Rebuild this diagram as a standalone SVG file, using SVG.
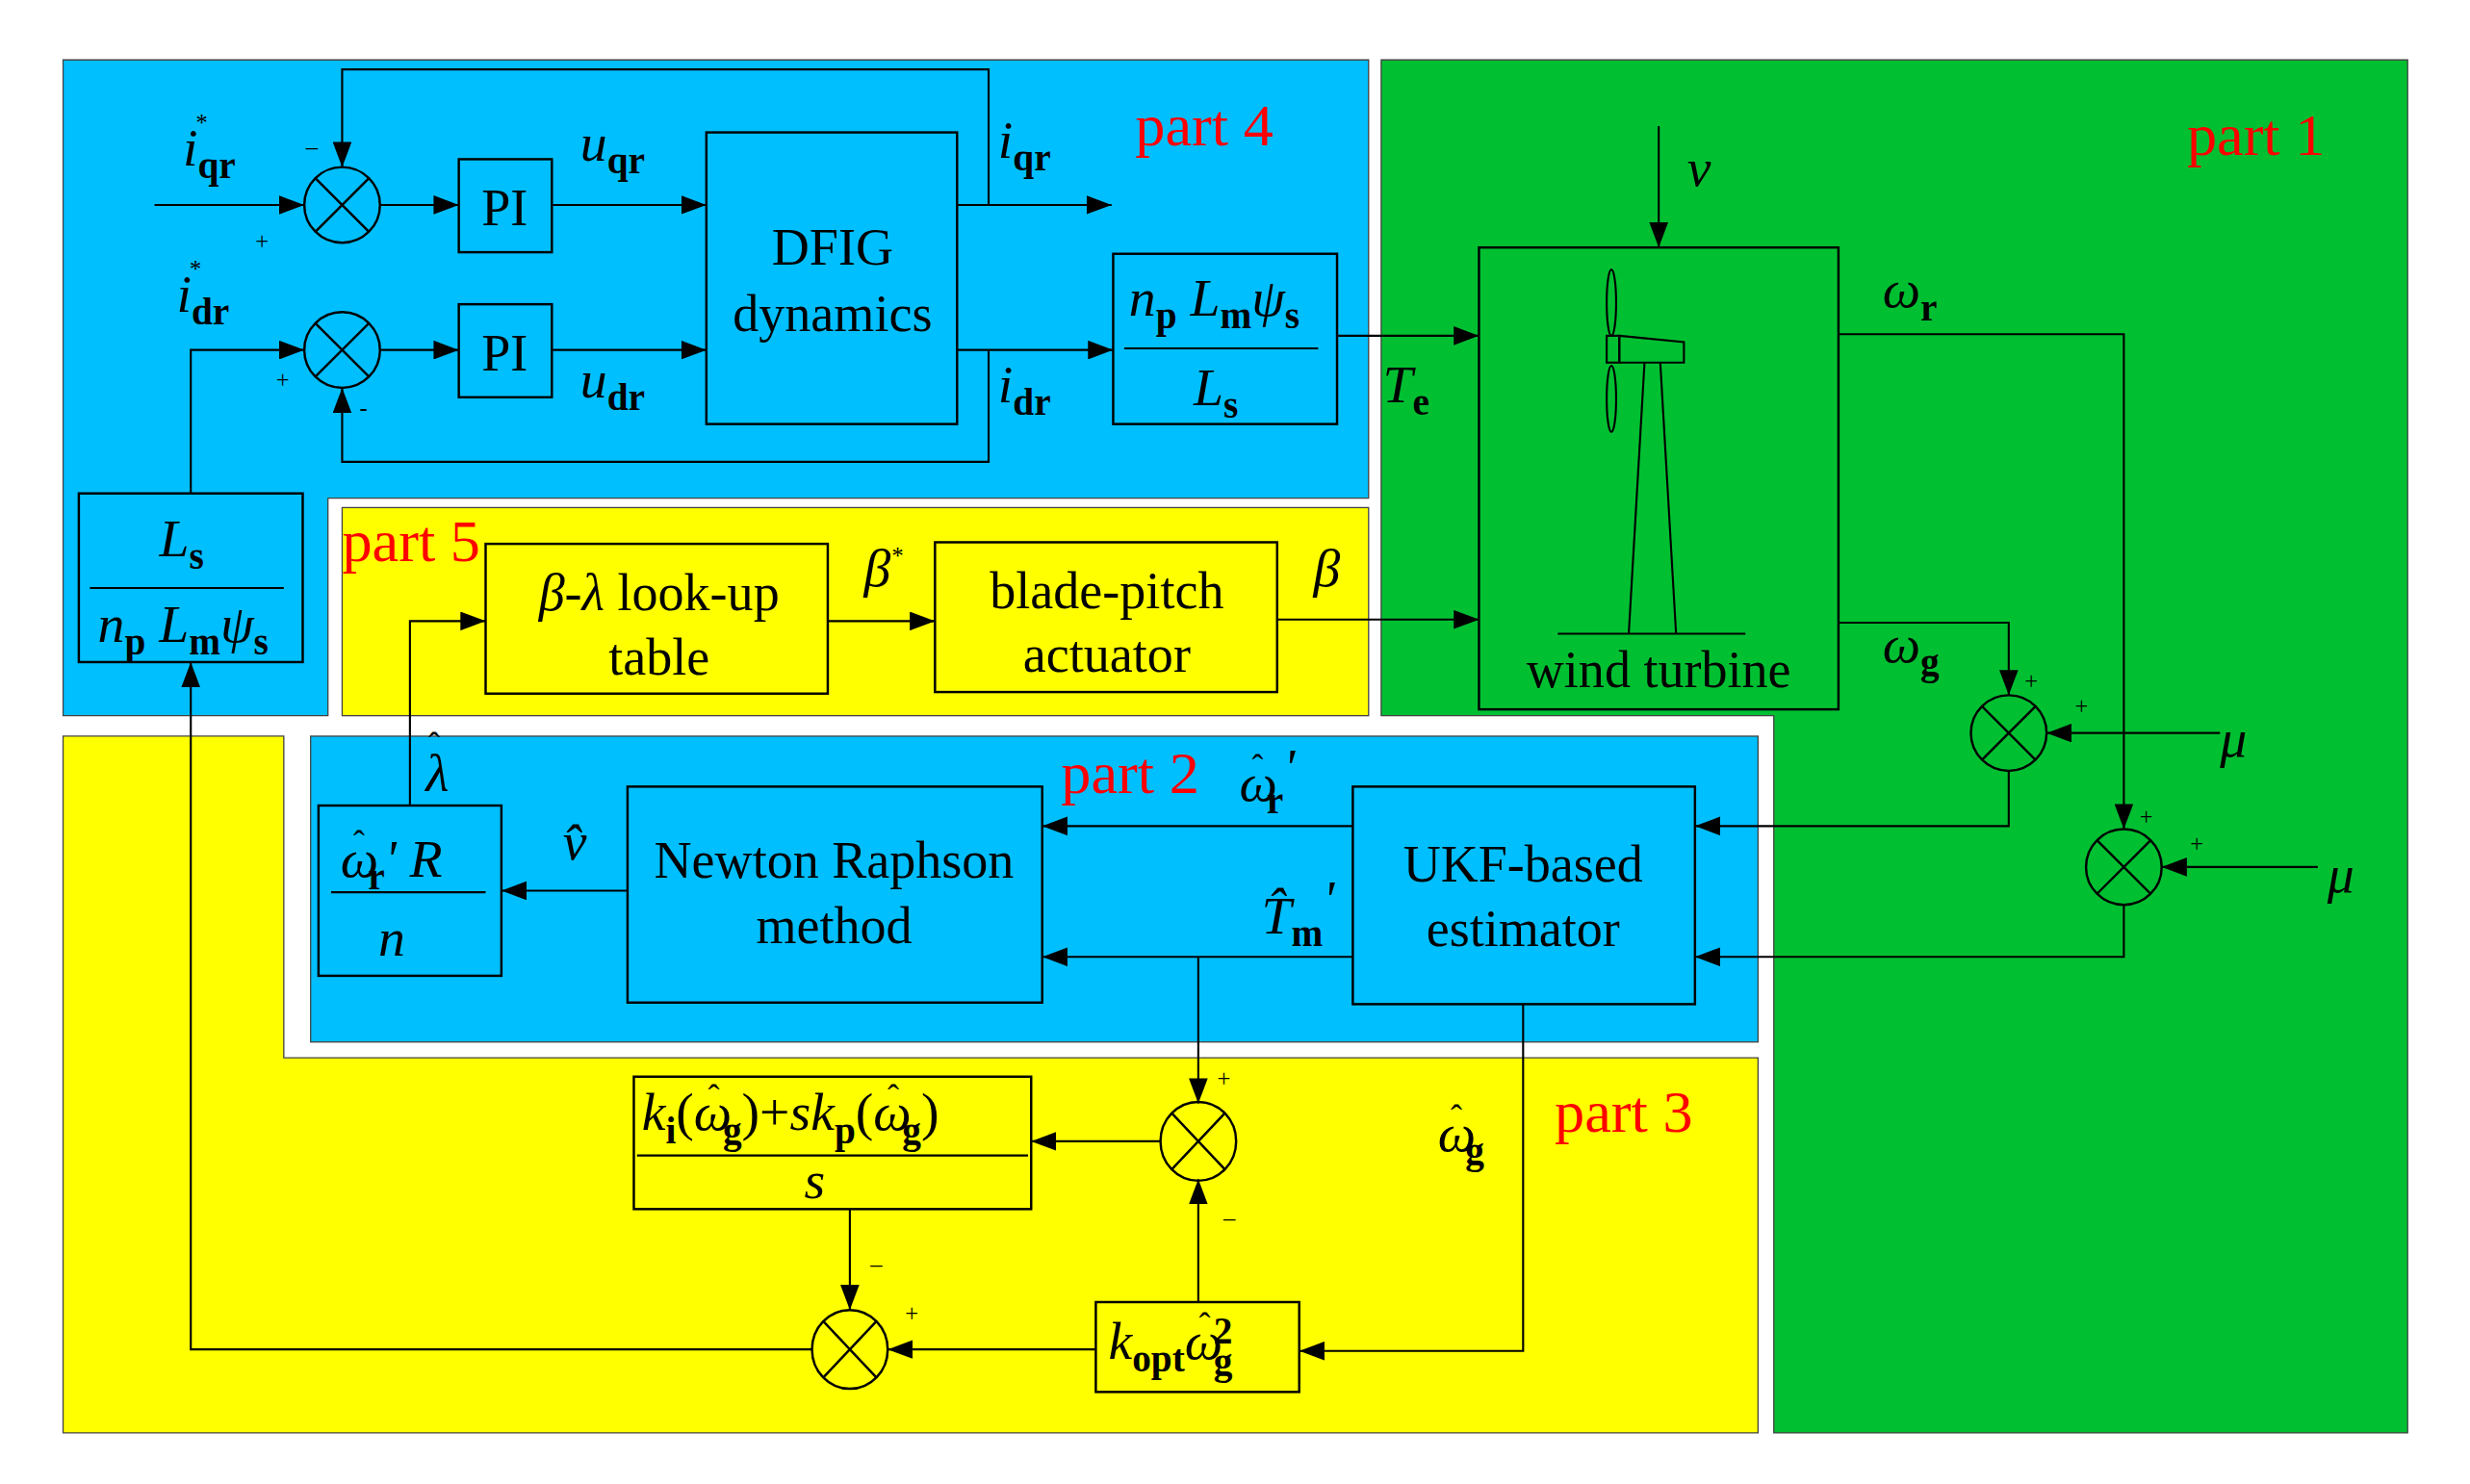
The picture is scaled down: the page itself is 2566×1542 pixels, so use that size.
<svg xmlns="http://www.w3.org/2000/svg" width="2566" height="1542" viewBox="0 0 2566 1542">
<style>
text{font-family:"Liberation Serif",serif;fill:#000}
.b{fill:none;stroke:#000;stroke-width:1.5}
.l{fill:none;stroke:#000;stroke-width:1.3}
.t{font-size:33px;text-anchor:middle}
.m{font-style:italic;font-size:34px}
.s{font-size:24px;font-weight:bold;font-style:normal}
.h{font-size:22px;font-style:normal}
.p{fill:red;font-size:38px}
.sg{font-size:15px}
</style>
<defs>
<marker id="a" markerUnits="userSpaceOnUse" markerWidth="16" markerHeight="12" refX="16" refY="6" orient="auto"><path d="M0,0L16,6L0,12z" fill="#000"/></marker>
</defs>
<rect width="2566" height="1542" fill="#fff"/>
<g transform="scale(1.638)">
<g id="regions" stroke="#444" stroke-width="0.8">
<path d="M40,38H868V316H208V454H40z" fill="#00bfff"/>
<rect x="217" y="322" width="651" height="132" fill="#ffff00"/>
<path d="M876,38H1527V909H1125V454H876z" fill="#00c032"/>
<path d="M40,467H180V671H1115V909H40z" fill="#ffff00"/>
<rect x="197" y="467" width="918" height="194" fill="#00bfff"/>
</g>
<g id="labels">
<text class="p" x="720" y="92">part 4</text>
<text class="p" x="1387" y="98">part 1</text>
<text class="p" x="217" y="356">part 5</text>
<text class="p" x="673" y="503">part 2</text>
<text class="p" x="986" y="718">part 3</text>
</g>
<g id="sums" class="b">
<g id="sum1"><circle cx="217" cy="130" r="24"/><path d="M200,113L234,147M234,113L200,147"/></g>
<g id="sum2"><circle cx="217" cy="222" r="24"/><path d="M200,205L234,239M234,205L200,239"/></g>
<g id="sum3"><circle cx="1274" cy="465" r="24"/><path d="M1257,448L1291,482M1291,448L1257,482"/></g>
<g id="sum4"><circle cx="1347" cy="550" r="24"/><path d="M1330,533L1364,567M1364,533L1330,567"/></g>
<g id="sum5"><ellipse cx="760" cy="724" rx="24" ry="25"/><path d="M743,706L777,742M777,706L743,742"/></g>
<g id="sum6"><ellipse cx="539" cy="856" rx="24" ry="25"/><path d="M522,838L556,874M556,838L522,874"/></g>
</g>
<g id="pi1"><rect class="b" x="291" y="101" width="59" height="59"/><text class="t" x="320" y="143" font-size="38">PI</text></g>
<g id="pi2"><rect class="b" x="291" y="193" width="59" height="59"/><text class="t" x="320" y="235" font-size="38">PI</text></g>
<g id="dfig"><rect class="b" x="448" y="84" width="159" height="185"/><text class="t" x="528" y="168">DFIG</text><text class="t" x="528" y="210">dynamics</text></g>
<g id="gain1"><rect class="b" x="706" y="161" width="142" height="108"/>
<text class="m" x="716" y="200">n<tspan class="s" dy="8">p</tspan><tspan dy="-8"> L</tspan><tspan class="s" dy="8">m</tspan><tspan dy="-8">ψ</tspan><tspan class="s" dy="8">s</tspan></text>
<line class="l" x1="713" y1="221" x2="836" y2="221"/>
<text class="m" x="757" y="257">L<tspan class="s" dy="8">s</tspan></text></g>
<g id="gain2"><rect class="b" x="50" y="313" width="142" height="107"/>
<text class="m" x="101" y="353">L<tspan class="s" dy="8">s</tspan></text>
<line class="l" x1="57" y1="373" x2="180" y2="373"/>
<text class="m" x="62" y="407">n<tspan class="s" dy="8">p</tspan><tspan dy="-8"> L</tspan><tspan class="s" dy="8">m</tspan><tspan dy="-8">ψ</tspan><tspan class="s" dy="8">s</tspan></text></g>
<g id="turbine"><rect class="b" x="938" y="157" width="228" height="293"/>
<path class="l" d="M988,402H1107M1033,402L1043,230M1063,402L1053,230"/>
<path class="l" d="M1027,213L1068,217V230H1027z"/>
<rect class="l" x="1019" y="213" width="8" height="17"/>
<ellipse class="l" cx="1022" cy="192" rx="3" ry="21"/>
<ellipse class="l" cx="1022" cy="253" rx="3" ry="21"/>
<text class="t" x="1052" y="436">wind turbine</text></g>
<g id="lookup"><rect class="b" x="308" y="345" width="217" height="95"/><text class="t" x="418" y="387"><tspan font-style="italic">β</tspan>-<tspan font-style="italic">λ</tspan> look-up</text><text class="t" x="418" y="428">table</text></g>
<g id="pitch"><rect class="b" x="593" y="344" width="217" height="95"/><text class="t" x="702" y="386">blade-pitch</text><text class="t" x="702" y="426">actuator</text></g>
<g id="ratio"><rect class="b" x="202" y="511" width="116" height="108"/>
<text class="m" x="216" y="556">ω<tspan class="h" dx="-16" dy="-14">ˆ</tspan><tspan class="s" dx="2" dy="22">r</tspan><tspan dy="-8">' R</tspan></text>
<line class="l" x1="210" y1="566" x2="308" y2="566"/>
<text class="m" x="240" y="606" font-size="42">n</text></g>
<g id="newton"><rect class="b" x="398" y="499" width="263" height="137"/><text class="t" x="529" y="557">Newton Raphson</text><text class="t" x="529" y="598">method</text></g>
<g id="ukf"><rect class="b" x="858" y="499" width="217" height="138"/><text class="t" x="966" y="559">UKF-based</text><text class="t" x="966" y="600">estimator</text></g>
<g id="pictrl"><rect class="b" x="402" y="683" width="252" height="84"/>
<text class="m" x="407" y="717" font-size="32">k<tspan class="s" dy="8">i</tspan><tspan dy="-8" font-style="normal">(</tspan>ω<tspan class="h" dx="-15" dy="-14">ˆ</tspan><tspan class="s" dx="2" dy="22">g</tspan><tspan dy="-8" font-style="normal">)+</tspan>sk<tspan class="s" dy="8">p</tspan><tspan dy="-8" font-style="normal">(</tspan>ω<tspan class="h" dx="-15" dy="-14">ˆ</tspan><tspan class="s" dx="2" dy="22">g</tspan><tspan dy="-8" font-style="normal">)</tspan></text>
<line class="l" x1="404" y1="733" x2="652" y2="733"/>
<text class="m" x="510" y="760" font-size="30">s</text></g>
<g id="kopt"><rect class="b" x="695" y="826" width="129" height="57"/>
<text class="m" x="703" y="862" font-size="32">k<tspan class="s" dy="8">opt</tspan><tspan dy="-8">ω</tspan><tspan class="h" dx="-15" dy="-14">ˆ</tspan><tspan class="s" dx="2" dy="4">2</tspan><tspan class="s" dx="-12" dy="20">g</tspan></text></g>
<g id="connectors" class="l" marker-end="url(#a)">
<path d="M98,130H193"/><path d="M241,130H291"/><path d="M350,130H448"/><path d="M607,130H705"/>
<path d="M627,130V44H217V106"/>
<path d="M121,313V222H193"/><path d="M241,222H291"/><path d="M350,222H448"/><path d="M607,222H706"/>
<path d="M627,222V293H217V246"/>
<path d="M848,213H938"/><path d="M1052,80V157"/>
<path d="M1166,212H1347V526"/><path d="M1166,395H1274V441"/>
<path d="M1408,465H1298"/><path d="M1470,550H1371"/>
<path d="M1274,489V524H1075"/><path d="M1347,574V607H1075"/>
<path d="M858,524H661"/><path d="M858,607H661"/><path d="M760,607V700"/>
<path d="M398,565H318"/><path d="M260,511V394H308"/>
<path d="M525,394H593"/><path d="M810,393H938"/>
<path d="M966,637V857H824"/><path d="M736,724H654"/><path d="M760,826V748"/>
<path d="M539,767V831"/><path d="M695,856H563"/><path d="M515,856H121V420"/>
</g>
<g id="signals">
<text class="m" x="116" y="105">i<tspan class="s" dy="8">qr</tspan><tspan class="sg" dx="-26" dy="-30">*</tspan></text>
<text class="m" x="112" y="198">i<tspan class="s" dy="8">dr</tspan><tspan class="sg" dx="-26" dy="-30">*</tspan></text>
<text class="m" x="368" y="102">u<tspan class="s" dy="8">qr</tspan></text>
<text class="m" x="368" y="252">u<tspan class="s" dy="8">dr</tspan></text>
<text class="m" x="633" y="100">i<tspan class="s" dy="8">qr</tspan></text>
<text class="m" x="633" y="255">i<tspan class="s" dy="8">dr</tspan></text>
<text class="m" x="877" y="255">T<tspan class="s" dy="8">e</tspan></text>
<text class="m" x="1070" y="118">v</text>
<text class="m" x="1194" y="195">ω<tspan class="s" dy="8">r</tspan></text>
<text class="m" x="1194" y="420">ω<tspan class="s" dy="8">g</tspan></text>
<text class="m" x="1408" y="480">μ</text><text class="m" x="1476" y="566">μ</text>
<text class="m" x="548" y="372">β<tspan class="sg" dy="-14">*</tspan></text>
<text class="m" x="833" y="372">β</text>
<text class="m" x="270" y="502">λ<tspan class="h" dx="-13" dy="-22">ˆ</tspan></text>
<text class="m" x="357" y="545">v̂</text>
<text class="m" x="786" y="508">ω<tspan class="h" dx="-16" dy="-14">ˆ</tspan><tspan class="s" dx="2" dy="22">r</tspan><tspan dy="-18">'</tspan></text>
<text class="m" x="800" y="592">T̂<tspan class="s" dy="8">m</tspan><tspan dy="-18">'</tspan></text>
<text class="m" x="912" y="730">ω<tspan class="h" dx="-16" dy="-14">ˆ</tspan><tspan class="s" dx="2" dy="22">g</tspan></text>
<text class="sg" x="162" y="158">+</text><text class="sg" x="194" y="98">–</text>
<text class="sg" x="175" y="246">+</text><text class="sg" x="228" y="264">-</text>
<text class="sg" x="1284" y="437">+</text><text class="sg" x="1316" y="453">+</text>
<text class="sg" x="1357" y="523">+</text><text class="sg" x="1389" y="540">+</text>
<text class="sg" x="772" y="689">+</text><text class="sg" x="776" y="778">–</text>
<text class="sg" x="552" y="807">–</text><text class="sg" x="574" y="838">+</text>
</g>
</g>
</svg>
